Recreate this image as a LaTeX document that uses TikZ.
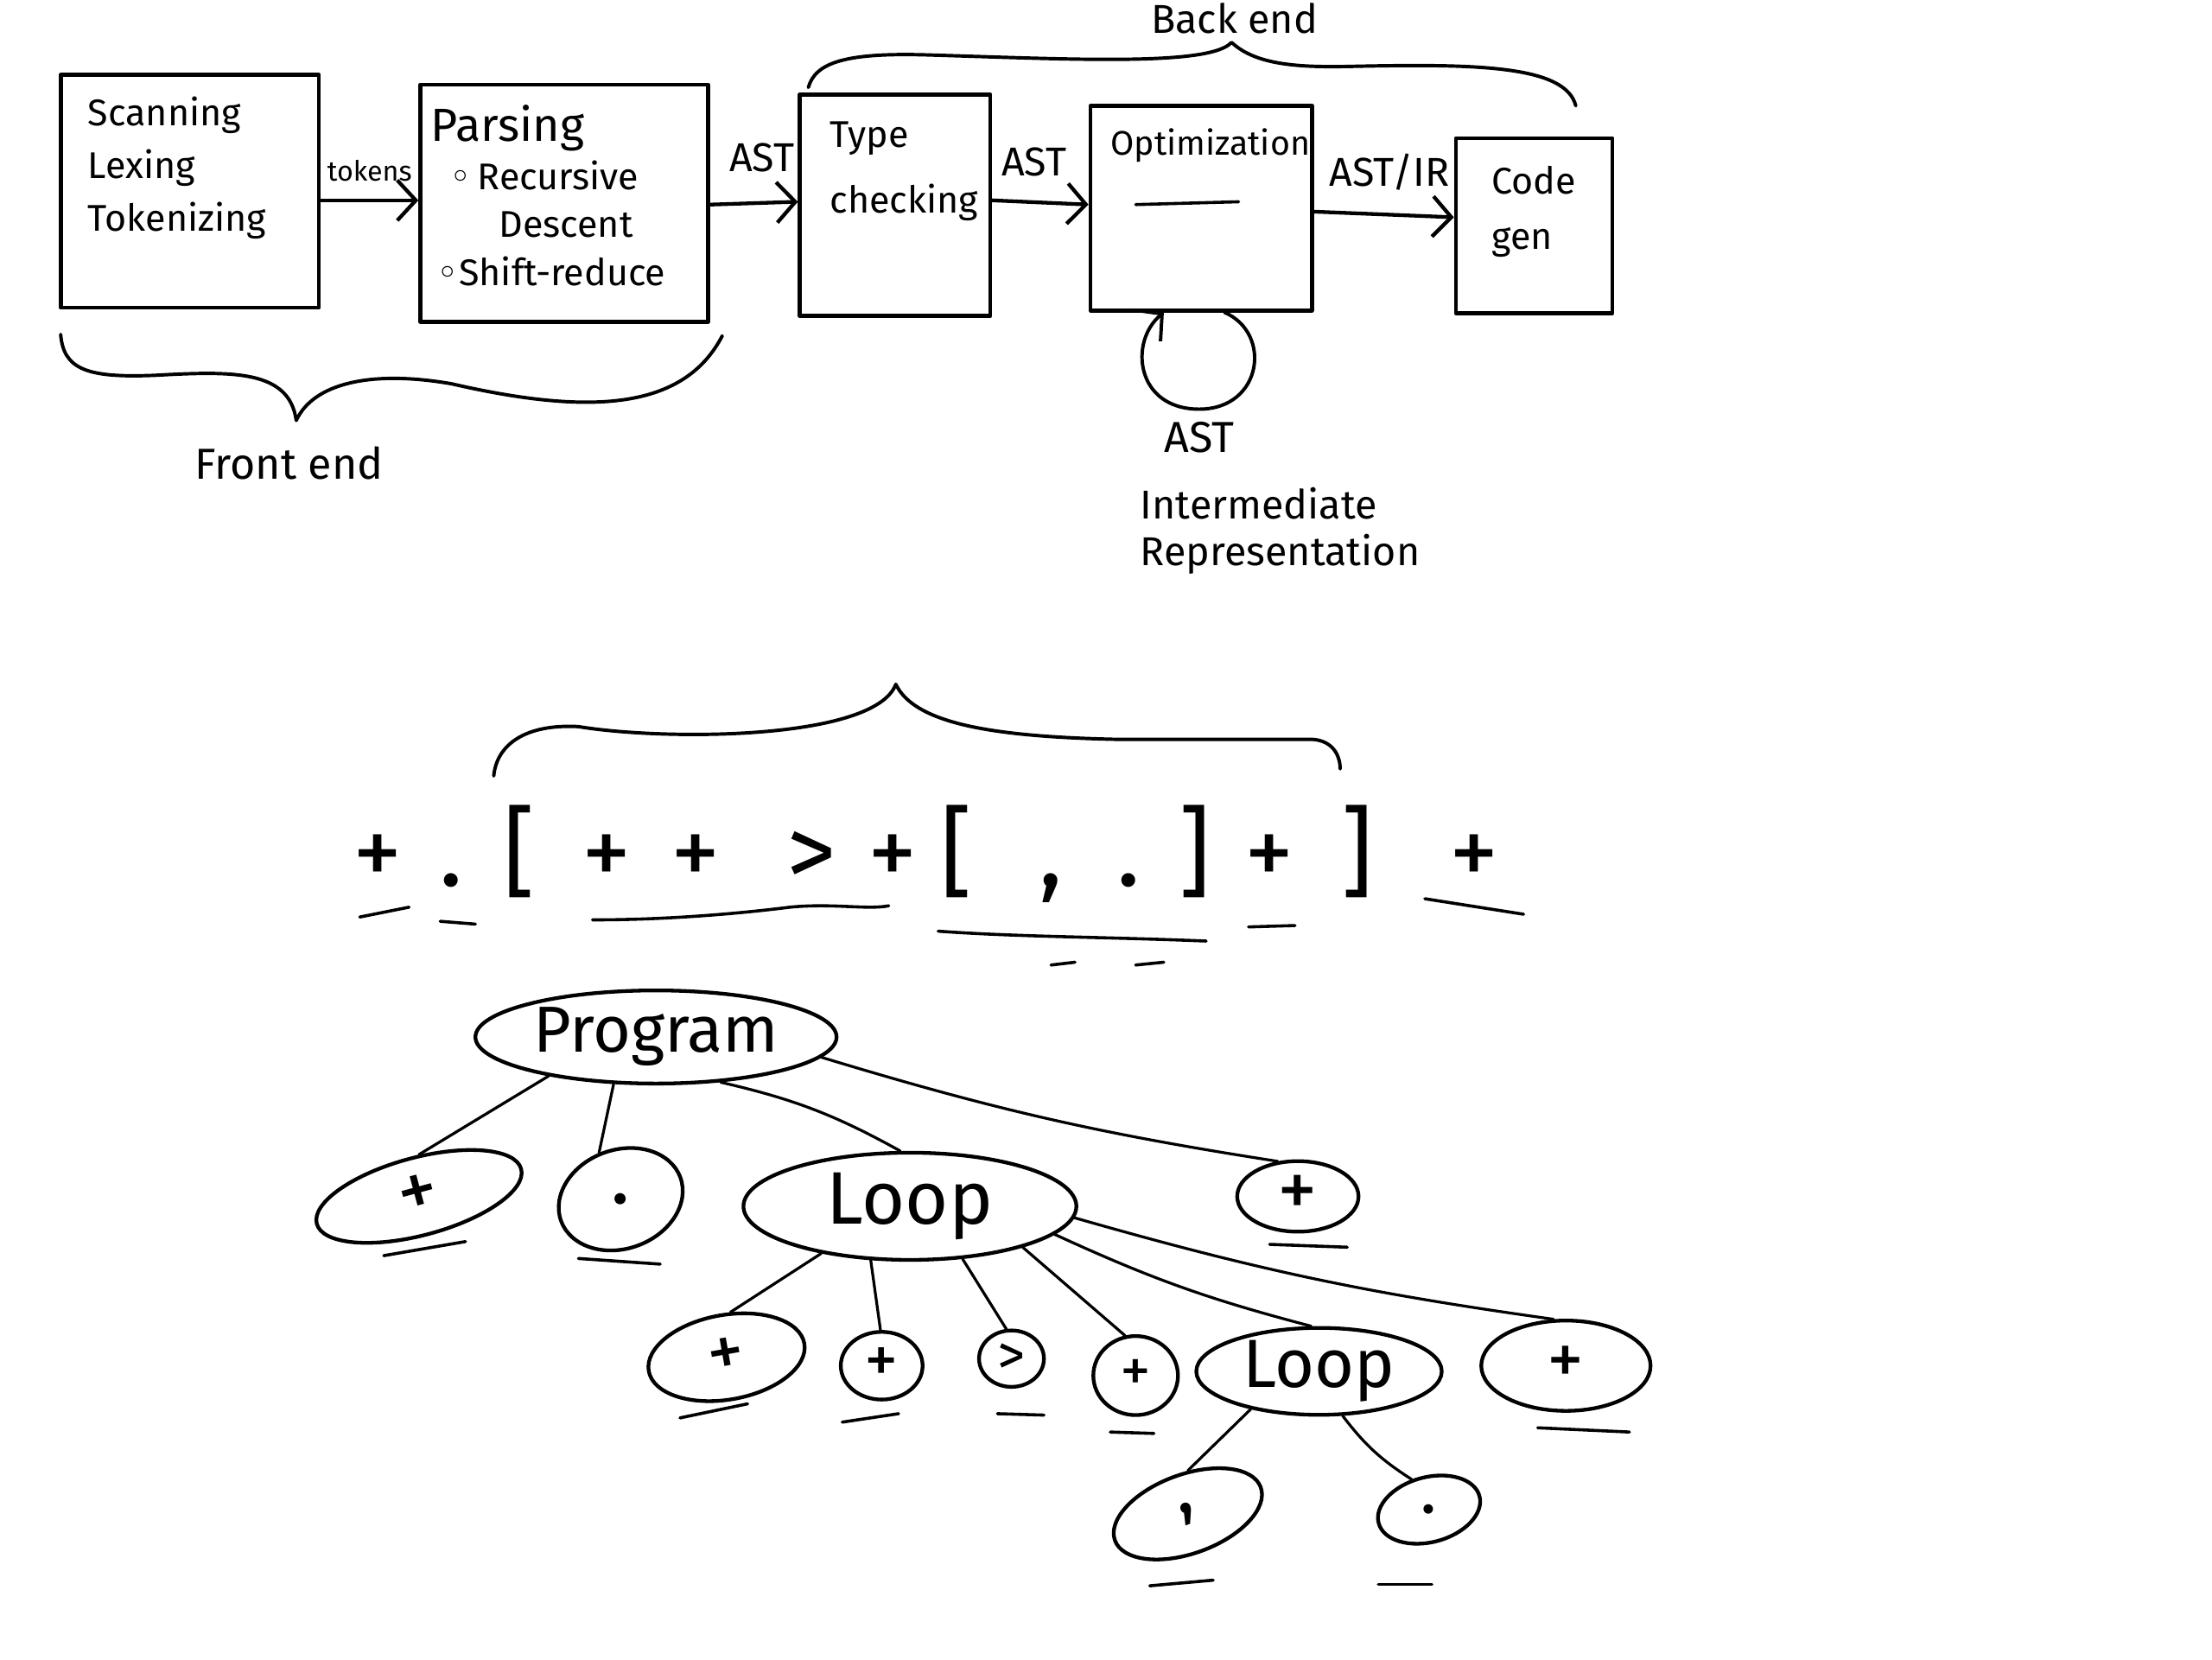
\documentclass[tikz,border=0pt]{standalone}
\usepackage{fontspec}
\setmainfont{Fira Sans}
\newfontfamily\djv{DejaVu Sans}
\usetikzlibrary{shapes.geometric,arrows.meta,fit}
\begin{document}
\begin{tikzpicture}[x=0.016cm,y=-0.016cm, line cap=round, line join=round,
  box/.style={draw, line width=1.3pt, inner sep=0pt},
  arr/.style={line width=1.2pt, -{Straight Barb[length=6pt,width=13pt]}},
  txt/.style={inner sep=0pt, anchor=north west, align=left},
  lab/.style={inner sep=1pt, font=\fontsize{13}{16}\selectfont},
  bracestroke/.style={line width=1.1pt},
  ell/.style 2 args={ellipse, draw, line width=1.2pt, minimum width=#1*0.016cm, minimum height=#2*0.016cm, inner sep=0pt},
  treeline/.style={line width=0.9pt},
  ul/.style={line width=1pt},
  tok/.style={inner sep=0pt, anchor=base, font=\fontsize{32}{32}\selectfont},
  ]
\fill[white] (0,0) rectangle (1568,1176);
\useasboundingbox (0,0) rectangle (1568,1176);

% ---------- pipeline boxes ----------
\node[box, fit={(43,53) (226,218)}] (b1) {};
\node[box, fit={(298,60) (502,228)}] (b2) {};
\node[box, fit={(567,67) (702,224)}] (b3) {};
\node[box, fit={(773,75) (930,220)}] (b4) {};
\node[box, fit={(1032,98) (1143,222)}] (b5) {};

\node[txt, font=\fontsize{12}{17}\selectfont] (t1) at (62,68) {Scanning\\Lexing\\Tokenizing};
\node[txt, font=\fontsize{12}{15.5}\selectfont] (t2) at (305,74)
  {{\fontsize{15}{18}\selectfont Parsing}\\
   \hspace*{6pt}{\djv ◦}\,Recursive\\
   \hspace*{22pt}Descent\\
   \hspace*{2pt}{\djv ◦}Shift-reduce};
\node[txt, font=\fontsize{12}{21}\selectfont] (t3) at (588,86) {Type\\checking};
\node[inner sep=0pt, font=\fontsize{11}{13}\selectfont] (t4) at (858,103) {Optimization};
\draw[ul] (805,145) -- (878,143);
\node[txt, font=\fontsize{12}{18}\selectfont] (t5) at (1057,117) {Code\\gen};

% ---------- arrows ----------
\draw[arr] (b1.east |- 0,142) -- (b2.west |- 0,142);
\draw[arr] (b2.east |- 0,145) -- (b3.west |- 0,143);
\draw[arr] (b3.east |- 0,142) -- (b4.west |- 0,145);
\draw[arr] (b4.east |- 0,150) -- (b5.west |- 0,154);
\node[lab, font=\fontsize{9}{11}\selectfont] (l1) at (262,121) {tokens};
\node[lab] (l2) at (540,112) {AST};
\node[lab] (l3) at (733,115) {AST};
\node[lab] (l4) at (985,122) {AST/IR};

% self loop
\draw[arr, line width=1.1pt] (b4.south -| 868,0) .. controls (902,236) and (895,290) .. (850,290)
   .. controls (805,290) and (800,242) .. (b4.south -| 825,0);
\node[lab, font=\fontsize{14}{17}\selectfont] (l5) at (850,310) {AST};
\node[txt, anchor=west, font=\fontsize{13}{15}\selectfont] (l6) at (808,376) {Intermediate\\Representation};

% ---------- braces ----------
\draw[bracestroke] (573,62) .. controls (578,44) and (600,37) .. (660,39)
   .. controls (760,42) and (858,47) .. (873,30)
   .. controls (890,46) and (920,48) .. (960,47)
   .. controls (1050,45) and (1110,47) .. (1117,75);
\node[lab, font=\fontsize{13}{16}\selectfont] (be) at (875,13) {Back end};

\draw[bracestroke] (43,237) .. controls (45,262) and (62,268) .. (110,266)
   .. controls (165,263) and (205,262) .. (210,298)
   .. controls (222,272) and (262,262) .. (320,272)
   .. controls (420,295) and (485,290) .. (512,238);
\node[lab, font=\fontsize{14}{17}\selectfont] (fe) at (205,328) {Front end};

% ---------- token string ----------
\draw[bracestroke] (350,550) .. controls (352,528) and (372,513) .. (410,515)
   .. controls (470,525) and (620,525) .. (635,485)
   .. controls (648,512) and (700,522) .. (790,524) -- (930,524)
   .. controls (946,525) and (950,537) .. (950,545);

\node[tok] (k1) at (268,628) {+};
\node[tok] (k2) at (320,628) {.};
\node[tok] (k3) at (368,628) {[};
\node[tok] (k4) at (430,628) {+};
\node[tok] (k5) at (493,628) {+};
\node[tok] (k6) at (575,628) {>};
\node[tok] (k7) at (633,628) {+};
\node[tok] (k8) at (678,628) {[};
\node[tok] (k9) at (745,628) {,};
\node[tok] (k10) at (800,628) {.};
\node[tok] (k11) at (847,628) {]};
\node[tok] (k12) at (900,628) {+};
\node[tok] (k13) at (962,628) {]};
\node[tok] (k14) at (1045,628) {+};

\draw[ul] (255,650) -- (290,643);
\draw[ul] (312,653) -- (337,655);
\draw[ul] (420,652) .. controls (470,652) and (520,648) .. (560,643) .. controls (590,640) and (615,645) .. (630,642);
\draw[ul] (665,660) .. controls (720,664) and (780,664) .. (855,667);
\draw[ul] (745,684) -- (762,682);
\draw[ul] (805,684) -- (825,682);
\draw[ul] (885,657) -- (918,656);
\draw[ul] (1010,637) -- (1080,648);

% ---------- tree ----------
\node[ell={256}{66}, font=\fontsize{21}{21}\selectfont] (prog) at (465,735) {Program};
\node[ell={150}{55}, rotate=15, font=\fontsize{26}{26}\selectfont] (c1) at (297,848) {+};
\node[ell={90}{70}, rotate=20, font=\fontsize{26}{26}\selectfont] (c2) at (440,850) {.};
\node[ell={236}{76}, font=\fontsize{24}{24}\selectfont] (loop) at (645,855) {Loop};
\node[ell={86}{50}, font=\fontsize{26}{26}\selectfont] (c4) at (920,848) {+};

\node[ell={112}{60}, rotate=10, font=\fontsize{24}{24}\selectfont] (d1) at (515,962) {+};
\node[ell={58}{48}, font=\fontsize{22}{22}\selectfont] (d2) at (625,968) {+};
\node[ell={46}{40}, font=\fontsize{18}{18}\selectfont] (d3) at (717,963) {>};
\node[ell={60}{56}, font=\fontsize{20}{20}\selectfont] (d4) at (805,975) {+};
\node[ell={174}{60}, font=\fontsize{22}{22}\selectfont] (loop2) at (935,972) {Loop};
\node[ell={120}{64}, font=\fontsize{24}{24}\selectfont] (d6) at (1110,968) {+};

\node[ell={110}{56}, rotate=20, font=\fontsize{24}{24}\selectfont] (e1) at (842,1073) {,};
\node[ell={74}{46}, rotate=15, font=\fontsize{22}{22}\selectfont] (e2) at (1013,1070) {.};

\draw[treeline] (prog.200) -- (c1.75);
\draw[treeline] (prog.228) -- (c2.95);
\draw[treeline] (prog.-35) to[bend left=8] (loop.100);
\draw[treeline] (prog.-7) to[bend right=4] (c4.120);

\draw[treeline] (loop.208) -- (d1.75);
\draw[treeline] (loop.234) -- (d2.92);
\draw[treeline] (loop.-45) -- (d3.100);
\draw[treeline] (loop.-20) -- (d4.105);
\draw[treeline] (loop.-11) to[bend right=5] (loop2.100);
\draw[treeline] (loop.-4) to[bend right=4] (d6.105);

\draw[treeline] (loop2.209) -- (e1.70);
\draw[treeline] (loop2.-62) to[bend right=10] (e2.105);

\draw[ul] (272,890) -- (330,880);
\draw[ul] (410,892) -- (468,896);
\draw[ul] (900,882) -- (955,884);
\draw[ul] (482,1005) -- (530,995);
\draw[ul] (597,1008) -- (637,1002);
\draw[ul] (707,1002) -- (740,1003);
\draw[ul] (787,1015) -- (818,1016);
\draw[ul] (1090,1012) -- (1155,1015);
\draw[ul] (815,1124) -- (860,1120);
\draw[ul] (977,1123) -- (1015,1123);
\end{tikzpicture}
\end{document}
